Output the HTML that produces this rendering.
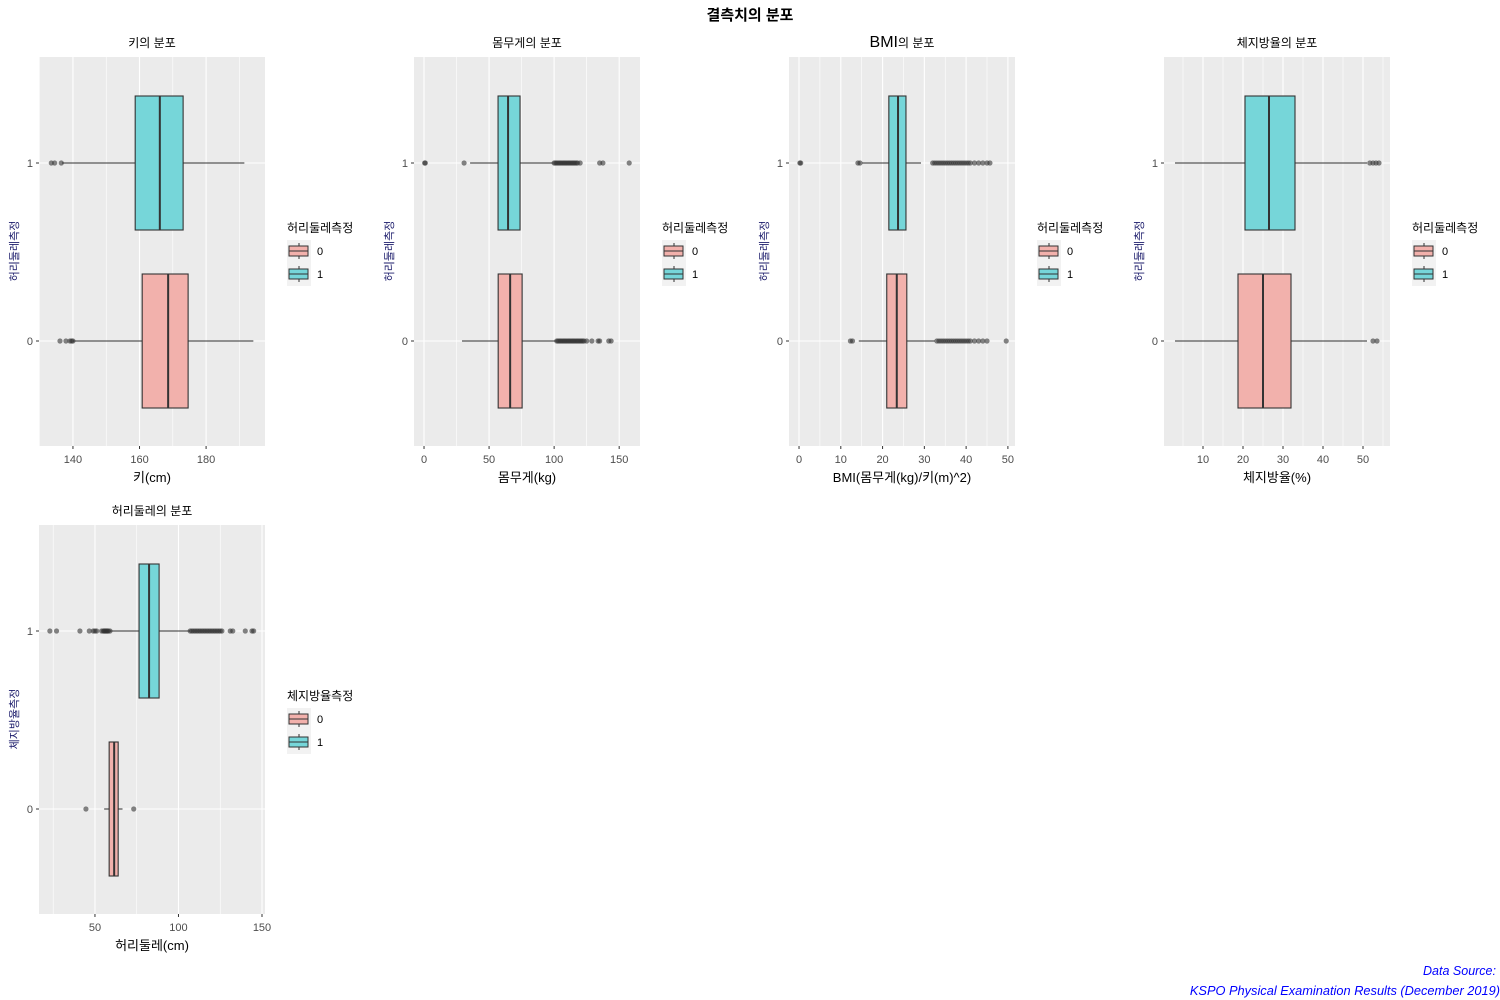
<!DOCTYPE html>
<html><head><meta charset="utf-8"><style>
html,body{margin:0;padding:0;background:#fff;}
svg{display:block;font-family:"Liberation Sans","Noto Sans CJK KR",sans-serif;}
</style></head><body>
<svg id="root" width="1500" height="1000" viewBox="0 0 1500 1000">
<text x="750" y="20" text-anchor="middle" font-size="15" font-weight="bold" fill="#000">결측치의 분포</text>
<text x="1496" y="975" text-anchor="end" font-size="12.5" font-style="italic" fill="#0000FF">Data Source:</text>
<text x="1500" y="995" text-anchor="end" font-size="12.8" font-style="italic" fill="#0000FF">KSPO Physical Examination Results (December 2019)</text>
</svg>
<script>
const panelTitles = ["키의 분포","몸무게의 분포","BMI의 분포","체지방율의 분포","허리둘레의 분포"];
const xTitles = ["키(cm)","몸무게(kg)","BMI(몸무게(kg)/키(m)^2)","체지방율(%)","허리둘레(cm)"];
const legendTitles = ["허리둘레측정","허리둘레측정","허리둘레측정","허리둘레측정","체지방율측정"];
const yTitles = ["허리둘레측정","허리둘레측정","허리둘레측정","허리둘레측정","체지방율측정"];
const categories = ["0","1"];
const xDomains = [[129.8,197.7],[-7.7,166],[-2.4,51.7],[0.25,56.75],[16.5,151.8]];
const xTicks = [[140,160,180],[0,50,100,150],[0,10,20,30,40,50],[10,20,30,40,50],[50,100,150]];
const xMinor = [[130,150,170,190],[25,75,125],[5,15,25,35,45],[5,15,25,35,45,55],[25,75,125]];
// [lowWhisker, q1, median, q3, highWhisker] for group 0 and group 1
const stats0 = [[140,160.8,168.6,174.6,194.2],[29.2,57,66.2,75.4,102],[14.3,21,23.4,25.8,32.5],[3,18.75,25,32,51],[55.5,58.5,61.5,63.9,66.5]];
const stats1 = [[136.7,158.7,166.1,173.1,191.5],[35.4,56.9,64.6,73.8,99.2],[15.1,21.5,23.7,25.6,29.2],[3,20.5,26.5,33,51],[59,76.4,82.4,88.4,107]];
const outliers0 = [
 [136.1,137.9,139.1,139.6,140],
 [102,103,104,105,106,107,108,109,110,111,112,113,114,115,116,117,118,119,120,121,122,123,125,129,133.8,135,142,143.8],
 [12.3,12.8,33,33.5,34,34.5,35,35.5,36,36.5,37,37.5,38,38.5,39,39.5,40,40.5,41,42,43,44,45,49.6],
 [52.5,53.5],
 [44.6,73.2]];
const outliers1 = [
 [133.5,134.5,136.5],
 [0.5,1,30.8,100,101,102,103,104,105,106,107,108,109,110,111,112,113,114,115,116,117,118,120,135,137.5,157.7],
 [0.2,0.4,14.1,14.6,32,32.5,33,33.5,34,34.5,35,35.5,36,36.5,37,37.5,38,38.5,39,39.5,40,40.5,41,42,43,44,45,45.7],
 [51.7,52.5,53.25,54],
 [23,27,41,46.6,49,50,51,54,55,55.5,56,56.5,57,57.5,58,59,107,108,109,110,111,112,113,114,115,116,117,118,119,120,121,122,123,124,125,126,131,132.5,140,144,145]];

const NS="http://www.w3.org/2000/svg";
const root=document.getElementById('root');
function mk(tag,attrs,parent){const e=document.createElementNS(NS,tag);for(const k in attrs)e.setAttribute(k,attrs[k]);(parent||root).appendChild(e);return e;}
const PW=226,PH=389;
const origins=[[39,57],[414,57],[789,57],[1164,57],[39,525]];
const fills=["#F2B1AC","#76D6D9"];
for(let p=0;p<5;p++){
  const [ox,oy]=origins[p];
  const g=mk('g',{});
  
  
  const [d0,d1]=xDomains[p];
  const xs=v=>ox+(v-d0)/(d1-d0)*PW;
  const ys=c=>oy+106+(1-c)*178;
  const bg=mk('rect',{x:ox,y:oy,width:PW,height:PH,fill:'#EBEBEB'},g);
  
  
  xMinor[p].forEach(v=>{if(v>d0&&v<d1)mk('line',{x1:xs(v),x2:xs(v),y1:oy,y2:oy+PH,stroke:'#fff','stroke-width':0.6},g);});
  xTicks[p].forEach(v=>{
    mk('line',{x1:xs(v),x2:xs(v),y1:oy,y2:oy+PH,stroke:'#fff','stroke-width':1.1},g);
    mk('line',{x1:xs(v),x2:xs(v),y1:oy+PH,y2:oy+PH+3,stroke:'#333','stroke-width':1},g);
    const t=mk('text',{x:xs(v),y:oy+PH+17,'text-anchor':'middle','font-size':11,fill:'#4D4D4D'},g);
    t.textContent=v;
    
    
  });
  categories.forEach((c,i)=>{
    mk('line',{x1:ox,x2:ox+PW,y1:ys(i),y2:ys(i),stroke:'#fff','stroke-width':1.1},g);
    mk('line',{x1:ox-3,x2:ox,y1:ys(i),y2:ys(i),stroke:'#333','stroke-width':1},g);
    const t=mk('text',{x:ox-6,y:ys(i)+4,'text-anchor':'end','font-size':11,fill:'#4D4D4D'},g);
    t.textContent=c;
    
    
  });
  const groups=[[stats0[p],outliers0[p]],[stats1[p],outliers1[p]]];
  groups.forEach(([s,outs],i)=>{
    const y=ys(i);
    const bx=mk('g',{},g);
    
    
    mk('line',{x1:xs(s[0]),x2:xs(s[1]),y1:y,y2:y,stroke:'#333','stroke-width':1},bx);
    mk('line',{x1:xs(s[3]),x2:xs(s[4]),y1:y,y2:y,stroke:'#333','stroke-width':1},bx);
    mk('rect',{x:xs(s[1]),y:y-67,width:xs(s[3])-xs(s[1]),height:134,fill:fills[i],stroke:'#333','stroke-width':1.1},bx);
    mk('line',{x1:xs(s[2]),x2:xs(s[2]),y1:y-67,y2:y+67,stroke:'#333','stroke-width':2},bx);
    outs.forEach(v=>{
      const c=mk('circle',{cx:xs(v),cy:y,r:2.6,fill:'#333','fill-opacity':0.6},bx);
      
      
    });
  });
  const tt=mk('text',{x:ox+PW/2,y:oy-10,'text-anchor':'middle','font-size':12,fill:'#000'},g);
  if(p===2){tt.innerHTML='<tspan font-size="16">BMI</tspan>의 분포';}else tt.textContent=panelTitles[p];
  
  
  const xt=mk('text',{x:ox+PW/2,y:oy+PH+36,'text-anchor':'middle','font-size':13,fill:'#000'},g);
  xt.textContent=xTitles[p];
  
  
  const yt=mk('text',{x:0,y:0,'text-anchor':'middle','font-size':11,fill:'#1a1a6a',transform:`translate(${ox-21},${oy+194}) rotate(-90)`},g);
  yt.textContent=yTitles[p];
  
  
  const lg=mk('g',{},g);
  
  
  const lx=ox+248, ly=oy+175;
  const lt=mk('text',{x:lx,y:ly,'font-size':12,fill:'#000'},lg);
  lt.textContent=legendTitles[p];
  mk('rect',{x:lx,y:ly+8,width:24,height:46,fill:'#F2F2F2'},lg);
  categories.forEach((c,i)=>{
    const ky=ly+19+i*23;
    mk('line',{x1:lx+12,x2:lx+12,y1:ky-8,y2:ky+8,stroke:'#333','stroke-width':1},lg);
    mk('rect',{x:lx+2,y:ky-5,width:19,height:10,fill:fills[i],stroke:'#333','stroke-width':1},lg);
    mk('line',{x1:lx+2,x2:lx+21,y1:ky,y2:ky,stroke:'#333','stroke-width':1},lg);
    const t=mk('text',{x:lx+30,y:ky+4,'font-size':11,fill:'#000'},lg);
    t.textContent=c;
    
    
  });
}
</script>
</body></html>
